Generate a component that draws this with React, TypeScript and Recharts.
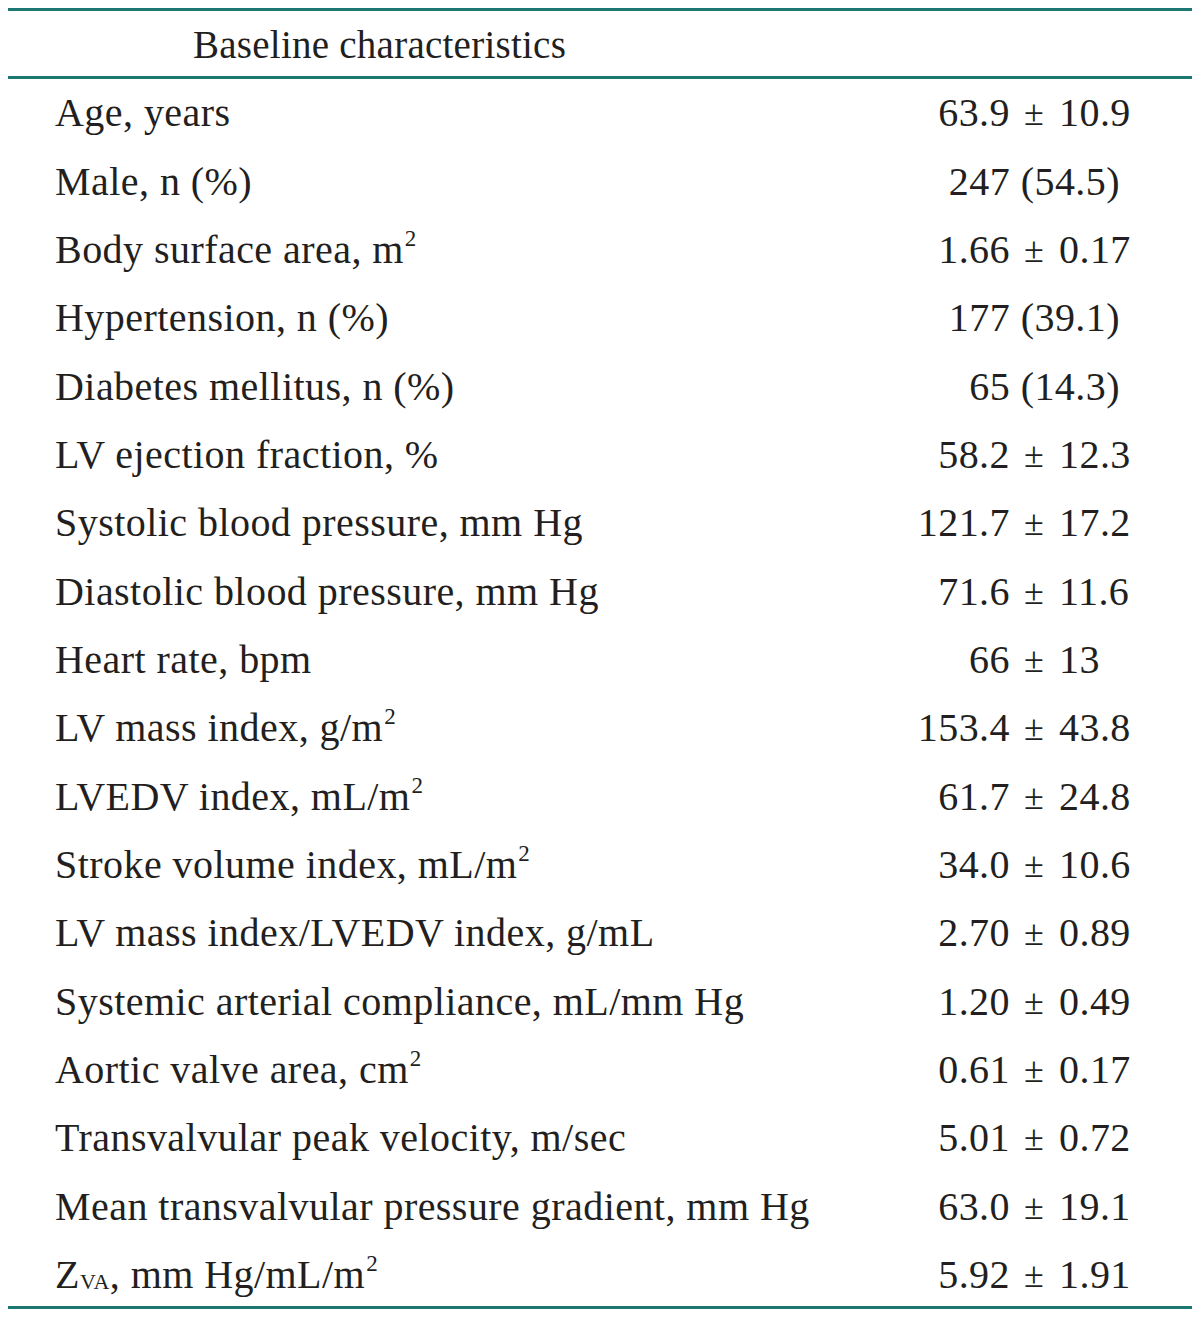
import { BarChart, Bar, YAxis, XAxis } from "recharts";

// row labels; ^{..} marks a superscript, _{..} a subscript
const labels = [
  "Age, years",
  "Male, n (%)",
  "Body surface area, m^{2}",
  "Hypertension, n (%)",
  "Diabetes mellitus, n (%)",
  "LV ejection fraction, %",
  "Systolic blood pressure, mm Hg",
  "Diastolic blood pressure, mm Hg",
  "Heart rate, bpm",
  "LV mass index, g/m^{2}",
  "LVEDV index, mL/m^{2}",
  "Stroke volume index, mL/m^{2}",
  "LV mass index/LVEDV index, g/mL",
  "Systemic arterial compliance, mL/mm Hg",
  "Aortic valve area, cm^{2}",
  "Transvalvular peak velocity, m/sec",
  "Mean transvalvular pressure gradient, mm Hg",
  "Z_{VA}, mm Hg/mL/m^{2}",
];

const values = [
  "63.9 ± 10.9",
  "247 (54.5)",
  "1.66 ± 0.17",
  "177 (39.1)",
  "65 (14.3)",
  "58.2 ± 12.3",
  "121.7 ± 17.2",
  "71.6 ± 11.6",
  "66 ± 13",
  "153.4 ± 43.8",
  "61.7 ± 24.8",
  "34.0 ± 10.6",
  "2.70 ± 0.89",
  "1.20 ± 0.49",
  "0.61 ± 0.17",
  "5.01 ± 0.72",
  "63.0 ± 19.1",
  "5.92 ± 1.91",
];

const title = "Baseline characteristics";

const rows = labels.map((label, i) => ({ label, value: values[i] }));

const TEAL = "#1d7871";
const INK = "#231f20";
const FONT = "'Liberation Serif', 'Times New Roman', serif";
const SIZE = 40;
const SPACING = 0.45;
const BASE = 15;

function LabelTick({ y, payload }: any) {
  const parts = String(payload.value).split(/(\^\{[^}]*\}|_\{[^}]*\})/).filter(Boolean);
  return (
    <text
      x={47}
      y={y + BASE}
      fill={INK}
      fontFamily={FONT}
      fontSize={SIZE}
      letterSpacing={SPACING}
      textAnchor="start"
    >
      {parts.map((p, i) => {
        if (p.startsWith("^{")) {
          return (
            <tspan key={i} fontSize={23} dy={-17} dx={1}>
              {p.slice(2, -1)}
            </tspan>
          );
        }
        if (p.startsWith("_{")) {
          return (
            <tspan key={i} fontSize={22} dy={1}>
              {p.slice(2, -1)}
            </tspan>
          );
        }
        const prev = parts[i - 1];
        const shift = prev && prev.startsWith("^{") ? 17 : prev && prev.startsWith("_{") ? -1 : undefined;
        return (
          <tspan key={i} dy={shift}>
            {p}
          </tspan>
        );
      })}
    </text>
  );
}

function ValueTick({ y, payload }: any) {
  const v = String(payload.value);
  const pm = v.split(" ± ");
  const cx = 1026;
  if (pm.length === 2) {
    return (
      <g fill={INK} fontFamily={FONT} fontSize={SIZE} letterSpacing={SPACING}>
        <text x={cx - 24} y={y + BASE} textAnchor="end">{pm[0]}</text>
        <text x={cx} y={y + BASE - 1} textAnchor="middle" fontSize={36} letterSpacing={0}>±</text>
        <text x={cx + 25} y={y + BASE} textAnchor="start">{pm[1]}</text>
      </g>
    );
  }
  return (
    <text
      x={1112}
      y={y + BASE}
      textAnchor="end"
      fill={INK}
      fontFamily={FONT}
      fontSize={SIZE}
      letterSpacing={SPACING}
    >
      {v}
    </text>
  );
}

const rule = (top: number) => ({
  position: "absolute" as const,
  left: 0,
  top,
  width: 1184,
  height: 3,
  background: TEAL,
});

export default function App() {
  return (
    <div style={{ position: "relative", width: 1184, height: 1305 }}>
      <div style={rule(0)} />
      <div
        style={{
          position: "absolute",
          left: 185,
          top: 17,
          fontFamily: FONT,
          fontSize: 39,
          letterSpacing: 0.25,
          color: INK,
          lineHeight: 1,
          whiteSpace: "nowrap",
        }}
      >
        {title}
      </div>
      <div style={rule(68)} />
      <div style={{ position: "absolute", left: 0, top: 0 }}>
        <BarChart
          width={1184}
          height={1310}
          data={rows}
          layout="vertical"
          margin={{ top: 69, right: 0, bottom: 11, left: 0 }}
        >
          <XAxis type="number" domain={[0, 1]} hide />
          <YAxis
            yAxisId="left"
            type="category"
            dataKey="label"
            width={2}
            axisLine={false}
            tickLine={false}
            tick={<LabelTick />}
            interval={0}
          />
          <YAxis
            yAxisId="right"
            orientation="right"
            type="category"
            dataKey="value"
            width={2}
            axisLine={false}
            tickLine={false}
            tick={<ValueTick />}
            interval={0}
          />
          <Bar yAxisId="left" dataKey="none" fill="none" isAnimationActive={false} />
          <Bar yAxisId="right" dataKey="none" fill="none" isAnimationActive={false} />
        </BarChart>
      </div>
      <div style={rule(1298)} />
    </div>
  );
}
